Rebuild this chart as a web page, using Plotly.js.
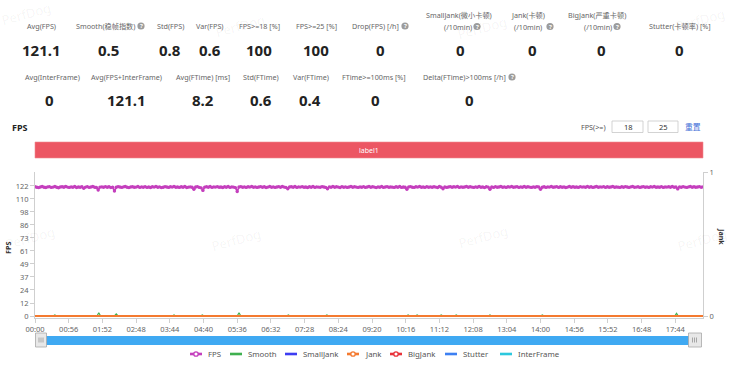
<!DOCTYPE html>
<html>
<head>
<meta charset="utf-8">
<script src="https://cdn.plot.ly/plotly-3.0.1.min.js"></script>
<style>
html,body{margin:0;padding:0;background:#fff;}
#chart{width:730px;height:365px;}
</style>
</head>
<body>
<div id="chart"></div>
<script>
// ---------------- DATA ----------------
const statNames1 = ['Avg(FPS)', 'Smooth(稳帧指数)', 'Std(FPS)', 'Var(FPS)', 'FPS>=18 [%]', 'FPS>=25 [%]', 'Drop(FPS) [/h]',
  'SmallJank(微小卡顿)|(/10min)', 'Jank(卡顿)|(/10min)', 'BigJank(严重卡顿)|(/10min)', 'Stutter(卡顿率) [%]'];
const statValues1 = ['121.1', '0.5', '0.8', '0.6', '100', '100', '0', '0', '0', '0', '0'];
const statNames2 = ['Avg(InterFrame)', 'Avg(FPS+InterFrame)', 'Avg(FTime) [ms]', 'Std(FTime)', 'Var(FTime)', 'FTime>=100ms [%]', 'Delta(FTime)>100ms [/h]'];
const statValues2 = ['0', '121.1', '8.2', '0.6', '0.4', '0', '0'];

const seriesNames = ['FPS', 'Smooth', 'SmallJank', 'Jank', 'BigJank', 'Stutter', 'InterFrame'];
const xTickLabels = ['00:00','00:56','01:52','02:48','03:44','04:40','05:36','06:32','07:28','08:24',
  '09:20','10:16','11:12','12:08','13:04','14:00','14:56','15:52','16:48','17:44'];
const yTickLabels = ['0','12','24','37','49','61','73','86','98','110','122'];
const fpsAxisMax = 122.4;
const durationSec = 1110;
const sampleStep = 3; // seconds between FPS samples

const fps = [
121.6,121.2,120.8,121.4,121.9,121.1,120.9,121.5,121.7,121.0,121.3,121.8,121.2,120.7,121.4,121.6,121.1,121.9,121.3,121.0,
121.5,121.2,121.8,120.9,121.4,121.1,121.6,120.1,121.3,121.7,121.0,121.4,121.8,121.2,120.9,118.6,121.3,121.5,121.1,121.7,
121.2,121.6,120.8,121.3,117.6,121.1,121.7,121.4,121.0,121.5,121.9,121.2,120.8,121.4,121.6,121.1,121.3,121.8,121.0,121.5,
121.2,121.7,121.0,121.4,120.9,121.6,121.3,121.8,121.1,121.5,120.8,121.2,121.7,121.4,121.0,121.6,121.3,121.9,121.1,121.4,
121.0,121.6,121.2,121.8,120.9,121.3,121.5,121.1,119.2,121.4,121.7,121.0,120.6,118.2,121.3,121.6,121.2,121.8,121.0,121.5,
121.3,121.7,121.1,121.4,120.9,121.6,121.2,121.8,121.0,121.5,121.3,120.8,117.2,121.4,121.7,121.1,121.5,121.0,121.6,121.3,
121.8,121.2,121.5,121.0,121.4,121.7,121.1,121.6,120.9,121.3,121.8,121.2,121.5,121.0,121.4,121.7,121.1,121.9,121.3,121.0,
119.7,121.4,121.6,121.2,121.8,121.0,121.5,121.3,121.7,121.1,121.4,120.9,121.6,121.2,121.8,121.0,121.5,121.3,121.1,121.7,
121.4,121.0,119.8,121.5,121.2,121.8,121.1,121.6,121.3,120.9,121.7,121.2,121.5,121.0,121.4,121.8,121.1,121.6,121.3,121.0,
121.5,121.2,121.7,121.0,121.4,121.9,121.1,121.6,121.3,120.8,121.5,121.2,121.8,121.0,121.4,121.7,121.1,121.5,121.3,121.0,
121.6,121.2,121.8,121.0,121.4,121.1,119.3,121.5,121.7,121.2,121.0,121.6,121.3,121.8,121.1,121.4,121.0,121.7,121.2,121.5,
121.1,121.6,121.3,120.9,121.8,121.2,119.7,121.5,121.0,121.4,121.7,121.1,121.6,121.3,121.9,121.0,121.5,121.2,121.4,121.8,
121.1,121.6,121.3,121.0,121.5,121.2,121.8,121.1,121.4,120.8,121.6,121.3,119.2,121.5,121.0,121.7,121.2,121.4,121.8,121.1,
121.5,121.0,121.6,121.3,121.8,121.1,121.4,121.7,121.0,121.5,121.2,121.9,121.1,121.6,121.3,121.0,121.5,121.2,121.7,121.4,
119.3,121.2,121.6,121.0,121.5,121.3,121.8,121.1,121.4,121.7,121.0,121.6,121.2,121.5,120.9,121.3,121.8,121.1,121.6,121.2,
121.4,121.0,121.7,121.3,121.5,121.1,121.8,121.2,121.6,121.0,121.4,121.9,121.1,121.5,121.3,121.7,121.0,121.6,121.2,121.4,
121.8,121.1,121.5,121.3,121.0,121.6,121.2,121.7,121.4,121.0,121.5,121.8,121.1,121.3,121.6,121.0,121.4,121.7,121.2,121.5,
121.0,121.6,121.3,121.8,121.1,121.4,121.2,121.7,121.0,121.5,121.3,121.6,121.1,121.8,121.2,121.4,119.6,121.5,121.1,121.7,
121.3,121.0,121.5,121.8,121.2,121.6,121.1,121.4,121.7,121.2,121.5
];

const smoothTime = [0, 30,33,36, 103,106,109, 132,135,138, 228,231,234, 275,278,281, 336,339,342, 418,421,424,
  482,485,488, 617,620,623, 632,635,638, 672,675,678, 697,700,703, 753,756,759, 840,843,846, 1063,1066,1069, 1110];
const smoothValue = [0, 0,1,0, 0,3,0, 0,2,0, 0,1,0, 0,1,0, 0,3,0, 0,1,0,
  0,1,0, 0,1,0, 0,1,0, 0,1,0, 0,1,0, 0,1,0, 0,1,0, 0,2.5,0, 0];
const zeroTime = [0, 1110];
const smallJank = [0, 0];
const jank = [0, 0];
const bigJank = [0, 0];
const stutter = [0, 0];
const interFrame = [0, 0];

// ---------------- STYLE / LAYOUT ----------------
const W = 730, H = 365, ML = 35, MR = 27, MT = 172, MB = 47;
const PW = W - ML - MR, PH = H - MT - MB;
const X = px => (px - ML) / PW;
const Y = py => (H - MB - py) / PH;
const FONT = 'Noto Sans, "Noto Sans CJK SC", sans-serif';
const colors = {FPS:'#c43fbd', Smooth:'#3fb04f', SmallJank:'#3d3df2', Jank:'#f47a30', BigJank:'#e8323a', Stutter:'#3d80f2', InterFrame:'#2cc8de'};

const annotations = [];
const shapes = [];
function A(text, x, y, size, color, extra) {
  annotations.push(Object.assign({text, x: X(x), y: Y(y), xref:'paper', yref:'paper', showarrow:false,
    xanchor:'center', yanchor:'middle', font:{family:FONT, size, color}}, extra || {}));
}
function rect(x0, y0, x1, y1, fill, line, lw) {
  shapes.push({type:'rect', xref:'paper', yref:'paper', x0:X(x0), x1:X(x1), y0:Y(y1), y1:Y(y0),
    fillcolor: fill, line:{color: line || 'rgba(0,0,0,0)', width: lw || 0}, layer:'above'});
}
function circle(cx, cy, r, fill, line, lw) {
  shapes.push({type:'circle', xref:'paper', yref:'paper', x0:X(cx - r), x1:X(cx + r), y0:Y(cy + r), y1:Y(cy - r),
    fillcolor: fill, line:{color: line || 'rgba(0,0,0,0)', width: lw || 0}, layer:'above'});
}
function seg(x0, y0, x1, y1, color, w) {
  shapes.push({type:'line', xref:'paper', yref:'paper', x0:X(x0), x1:X(x1), y0:Y(y0), y1:Y(y1),
    line:{color, width:w}, layer:'above'});
}
function qIcon(cx, cy) {
  circle(cx, cy, 3.6, '#9c9c9c');
  A('<b>?</b>', cx, cy + 0.3, 6, '#fff');
}

// watermarks
[[26,14],[240,26],[482,28],[700,20],[30,238],[236,240],[483,237],[702,240]].forEach(p => {
  A('PerfDog', p[0], p[1], 13, 'rgba(0,0,0,0.05)', {textangle:-15});
});

// header stats, row 1
const labelPos1 = [[41],[105,141],[170],[210],[259],[316],[375,405],[459,458,477],[528,528,550],[597,598,617],[680]];
const valuePos1 = [41,108,170,210,259,316,380,460,532,601,679];
statNames1.forEach((name, i) => {
  const p = labelPos1[i];
  const parts = name.split('|');
  if (parts.length === 2) {
    A(parts[0], p[0], 15.5, 7.2, '#666');
    A(parts[1], p[1], 26.5, 7.2, '#666');
    qIcon(p[2], 26.5);
  } else {
    A(parts[0], p[0], 26, 7.2, '#666');
    if (p.length > 1) qIcon(p[1], 26);
  }
  A('<b>' + statValues1[i] + '</b>', valuePos1[i], 50, 15, '#222');
});
// row 2
const labelPos2 = [[52],[126],[203],[261],[311],[374],[464,512]];
const valuePos2 = [49,126,203,261,310,375,469];
statNames2.forEach((name, i) => {
  const p = labelPos2[i];
  A(name, p[0], 77, 7.2, '#666');
  if (p.length > 1) qIcon(p[1], 77);
  A('<b>' + statValues2[i] + '</b>', valuePos2[i], 100.5, 15, '#222');
});

// section title and controls
A('<b>FPS</b>', 10, 128, 9, '#222', {xanchor:'left'});
A('FPS(>=)', 608, 127, 7.2, '#555', {xanchor:'right'});
rect(612, 121, 643, 132.5, '#fff', '#c8c8c8', 0.8);
rect(648, 121, 678, 132.5, '#fff', '#c8c8c8', 0.8);
A('18', 628, 127, 7.5, '#333');
A('25', 663, 127, 7.5, '#333');
A('重置', 693, 127, 7.8, '#3f6fd8');

// label bar
rect(35, 142, 703, 158, '#ec5663', '#f08a92', 0.6);
A('label1', 369, 150, 7, '#fff');

// axis titles
A('<b>FPS</b>', 8, 248, 7.2, '#333', {textangle:-90});
A('<b>Jank</b>', 722, 236, 7.2, '#333', {textangle:90});

// data zoom slider
rect(43, 336, 691, 345, '#3fa9f2');
rect(35.5, 333, 46.5, 347, '#e8e8e8', '#a8a8a8', 0.8);
rect(688.5, 333, 701.5, 347, '#e8e8e8', '#a8a8a8', 0.8);
[39, 41, 43].forEach(x => seg(x, 337.5, x, 342.5, '#8a8a8a', 0.7));
[692.5, 694.5, 696.5].forEach(x => seg(x, 337.5, x, 342.5, '#8a8a8a', 0.7));

// legend (manual)
const legendIcon = [190, 230, 285, 347, 390, 445, 500];
const legendMarker = [true, false, false, true, true, false, false];
seriesNames.forEach((name, i) => {
  const x0 = legendIcon[i], c = colors[name], ly = 354;
  seg(x0, ly, x0 + 12, ly, c, 2.6);
  if (legendMarker[i]) circle(x0 + 6, ly, 2.2, '#fff', c, 1.3);
  A(name, x0 + 16, ly, 7.8, '#555', {xanchor:'left'});
});

// ---------------- TRACES ----------------
const fpsTime = fps.map((_, i) => i * sampleStep);
const traces = [
  {name:'FPS', x:fpsTime, y:fps, type:'scatter', mode:'lines+markers', yaxis:'y',
   line:{color:colors.FPS, width:1.7}, marker:{color:colors.FPS, size:3.4}},
  {name:'SmallJank', x:zeroTime, y:smallJank, type:'scatter', mode:'lines', yaxis:'y2', line:{color:colors.SmallJank, width:2}},
  {name:'BigJank', x:zeroTime, y:bigJank, type:'scatter', mode:'lines', yaxis:'y2', line:{color:colors.BigJank, width:2}},
  {name:'Stutter', x:zeroTime, y:stutter, type:'scatter', mode:'lines', yaxis:'y2', line:{color:colors.Stutter, width:2}},
  {name:'InterFrame', x:zeroTime, y:interFrame, type:'scatter', mode:'lines', yaxis:'y', line:{color:colors.InterFrame, width:2}},
  {name:'Smooth', x:smoothTime, y:smoothValue, type:'scatter', mode:'lines', yaxis:'y', line:{color:colors.Smooth, width:1.2}},
  {name:'Jank', x:zeroTime, y:jank, type:'scatter', mode:'lines', yaxis:'y2', line:{color:colors.Jank, width:2}}
];

const toSec = s => { const [m, ss] = s.split(':').map(Number); return m * 60 + ss; };
const axisFont = {family:FONT, size:7.5, color:'#666'};
const layout = {
  width:W, height:H, margin:{l:ML, r:MR, t:MT, b:MB, pad:0},
  paper_bgcolor:'#fff', plot_bgcolor:'#fff', showlegend:false,
  font:{family:FONT},
  xaxis:{range:[0, durationSec], tickvals:xTickLabels.map(toSec), ticktext:xTickLabels,
    showgrid:false, zeroline:false, showline:true, linecolor:'#cfcfcf', linewidth:1,
    ticks:'outside', ticklen:4, tickcolor:'#cfcfcf', tickfont:axisFont},
  yaxis:{range:[-1.87, 135.5], tickvals:yTickLabels.map((_, i) => i * fpsAxisMax / 10), ticktext:yTickLabels,
    showgrid:false, zeroline:false, showline:true, linecolor:'#cfcfcf', linewidth:1,
    ticks:'outside', ticklen:4, tickcolor:'#cfcfcf', tickfont:axisFont},
  yaxis2:{range:[-0.01389, 1], overlaying:'y', side:'right', tickvals:[0, 1], ticktext:['0', '1'],
    showgrid:false, zeroline:false, showline:true, linecolor:'#cfcfcf', linewidth:1,
    ticks:'outside', ticklen:4, tickcolor:'#cfcfcf', tickfont:axisFont},
  annotations, shapes
};
Plotly.newPlot('chart', traces, layout, {staticPlot:true, displayModeBar:false});
</script>
</body>
</html>
